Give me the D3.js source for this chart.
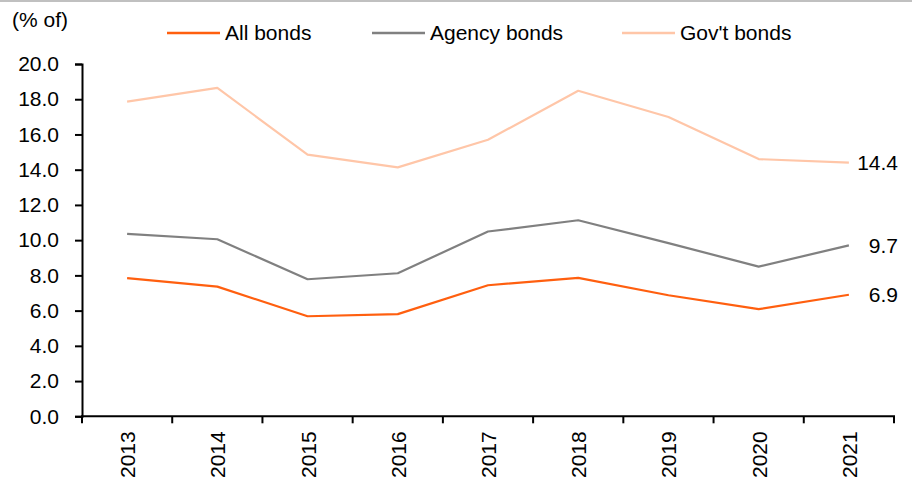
<!DOCTYPE html>
<html>
<head>
<meta charset="utf-8">
<script src="https://cdn.jsdelivr.net/npm/d3@7"></script>
<style>
  html, body { margin: 0; padding: 0; background: #fff; }
  svg { display: block; font-family: "Liberation Sans", Arial, sans-serif; }
</style>
</head>
<body>
<svg id="chart" width="912" height="477"></svg>
<script>
// Bond share series, % of total, 2013–2021
const years = ["2013", "2014", "2015", "2016", "2017", "2018", "2019", "2020", "2021"];
const allBonds = [7.84, 7.36, 5.68, 5.80, 7.44, 7.86, 6.87, 6.08, 6.9];
const agencyBonds = [10.36, 10.05, 7.78, 8.12, 10.49, 11.13, 9.83, 8.50, 9.7];
const govBonds = [17.86, 18.64, 14.86, 14.13, 15.70, 18.48, 16.99, 14.60, 14.4];
const yTicks = [0, 2, 4, 6, 8, 10, 12, 14, 16, 18, 20];

const series = [
  { name: "All bonds", values: allBonds, color: "#ff5f0f" },
  { name: "Agency bonds", values: agencyBonds, color: "#808080" },
  { name: "Gov't bonds", values: govBonds, color: "#ffc6a8" }
];

const FS = "21px";
const svg = d3.select("#chart");
const W = 912;

// Thin grey rule along the top edge
svg.append("rect").attr("x", 0).attr("y", 0).attr("width", W).attr("height", 2).attr("fill", "#c0c0c0");

const plot = { left: 82, right: 894, top: 64, bottom: 416.3 };

const x = d3.scaleBand().domain(years).range([plot.left, plot.right]);
const y = d3.scaleLinear().domain([0, 20]).range([plot.bottom, plot.top]);

// Y axis
const yAxis = svg.append("g")
  .attr("transform", `translate(${plot.left},0)`)
  .call(d3.axisLeft(y).tickValues(yTicks).tickSize(7).tickPadding(16).tickFormat(d3.format(".1f")));
yAxis.select(".domain").attr("stroke", "#000").attr("stroke-width", 2);
yAxis.selectAll(".tick line").attr("stroke", "#000").attr("stroke-width", 2);
yAxis.selectAll(".tick text").attr("fill", "#000").style("font-size", FS)
  .style("font-family", "'Liberation Sans', Arial, sans-serif");

// X axis with boundary ticks between categories
const xAxisG = svg.append("g").attr("transform", `translate(0,${plot.bottom})`);
xAxisG.append("line").attr("x1", plot.left - 1).attr("x2", plot.right + 1).attr("y1", 0).attr("y2", 0)
  .attr("stroke", "#000").attr("stroke-width", 2);
const bounds = years.map(d => x(d)).concat([plot.right]);
xAxisG.selectAll("line.bt").data(bounds).join("line").attr("class", "bt")
  .attr("x1", d => d).attr("x2", d => d).attr("y1", 0).attr("y2", 7)
  .attr("stroke", "#000").attr("stroke-width", 2);
xAxisG.selectAll("text.yr").data(years).join("text").attr("class", "yr")
  .attr("transform", d => `translate(${x(d) + x.bandwidth() / 2 + 8},15) rotate(-90)`)
  .attr("text-anchor", "end")
  .style("font-size", FS).attr("fill", "#000")
  .text(d => d);

// Lines
const line = d3.line()
  .x((d, i) => x(years[i]) + x.bandwidth() / 2)
  .y(d => y(d));
const drawOrder = [series[2], series[1], series[0]];
svg.selectAll("path.series").data(drawOrder).join("path").attr("class", "series")
  .attr("d", d => line(d.values))
  .attr("fill", "none").attr("stroke", d => d.color).attr("stroke-width", 2.2)
  .attr("stroke-linejoin", "round");

// End-value labels
svg.selectAll("text.endlab").data(series).join("text").attr("class", "endlab")
  .attr("x", 898)
  .attr("y", d => y(d.values[d.values.length - 1]))
  .attr("dy", "0.35em")
  .attr("text-anchor", "end")
  .style("font-size", FS).attr("fill", "#000")
  .text(d => d3.format(".1f")(d.values[d.values.length - 1]));

// Unit label
svg.append("text").attr("x", 12).attr("y", 27).style("font-size", FS).attr("fill", "#000").text("(% of)");

// Legend
const legendX = [167, 372, 622];
const lg = svg.selectAll("g.leg").data(series).join("g").attr("class", "leg")
  .attr("transform", (d, i) => `translate(${legendX[i]},33)`);
lg.append("line").attr("x1", 0).attr("x2", 53).attr("y1", 0).attr("y2", 0)
  .attr("stroke", d => d.color).attr("stroke-width", 2.5);
lg.append("text").attr("x", 58).attr("y", 0).attr("dy", "0.35em")
  .style("font-size", FS).attr("fill", "#000").text(d => d.name);
</script>
</body>
</html>
